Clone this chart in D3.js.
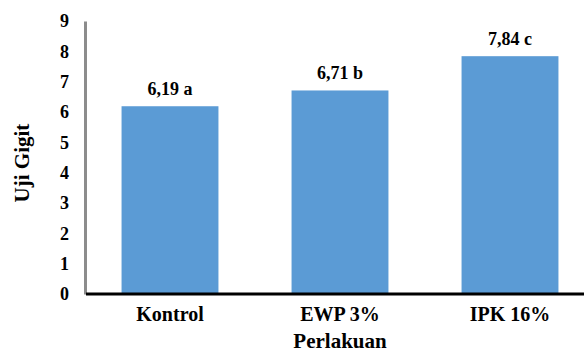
<!DOCTYPE html>
<html><head><meta charset="utf-8">
<script src="https://cdn.jsdelivr.net/npm/d3@7"></script>
<style>body{margin:0;background:#fff}svg{display:block}svg text{font-family:"Liberation Serif","Times New Roman",serif !important;font-weight:bold;fill:#000}</style>
</head><body>
<script>
const categories = ["Kontrol", "EWP 3%", "IPK 16%"];
const values = [6.19, 6.71, 7.84];
const labels = ["6,19 a", "6,71 b", "7,84 c"];
const yTicks = [0,1,2,3,4,5,6,7,8,9];

const W = 584, H = 354;
const svg = d3.select("body").append("svg").attr("width", W).attr("height", H);

const x = d3.scaleBand().domain(categories).range([85, 595]).paddingInner(0.43).paddingOuter(0.215);
const y = d3.scaleLinear().domain([0, 9]).range([294, 21]);

svg.selectAll("rect.bar").data(values).enter().append("rect")
  .attr("x", (d,i) => x(categories[i]))
  .attr("width", x.bandwidth())
  .attr("y", d => y(d))
  .attr("height", d => y(0) - y(d))
  .attr("fill", "#5B9BD5");

const ya = svg.append("g").attr("transform", "translate(85,0)")
  .call(d3.axisLeft(y).tickValues(yTicks).tickSize(0).tickPadding(16).tickFormat(d3.format("d")));
ya.select(".domain").attr("stroke", "#8c8c8c").attr("stroke-width", 3);
ya.selectAll("text").style("font-size", "18px");

const xa = svg.append("g").attr("transform", "translate(0,294)")
  .call(d3.axisBottom(x).tickSize(0).tickPadding(13));
xa.select(".domain").attr("stroke", "#000").attr("stroke-width", 3).attr("d", "M86,0H584");
xa.selectAll("text").style("font-size", "20px");

svg.selectAll("text.val").data(values).enter().append("text")
  .attr("class", "val")
  .attr("x", (d,i) => x(categories[i]) + x.bandwidth()/2)
  .attr("y", d => y(d) - 11)
  .attr("text-anchor", "middle")
  .style("font-size", "18px")
  .text((d,i) => labels[i]);

svg.append("text").attr("x", 340).attr("y", 348).attr("text-anchor", "middle")
  .style("font-size", "21px").text("Perlakuan");
svg.append("text").attr("transform", "translate(29,163) rotate(-90)").attr("text-anchor", "middle")
  .style("font-size", "21px").text("Uji Gigit");
</script>
</body></html>
